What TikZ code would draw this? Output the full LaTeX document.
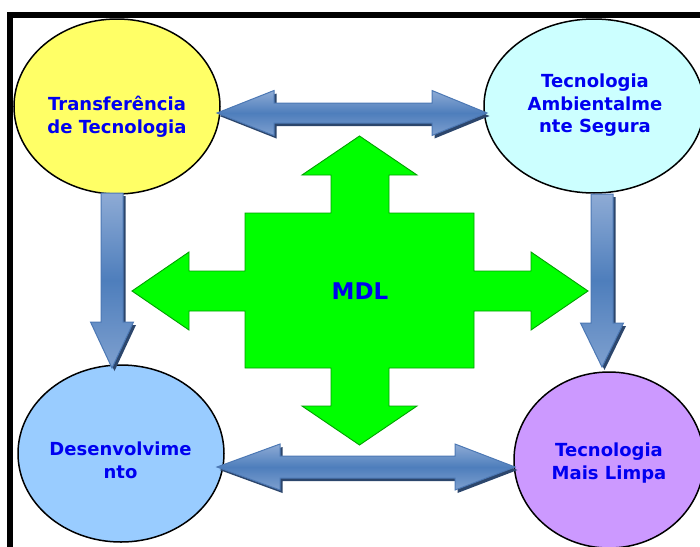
\documentclass[tikz,border=0pt]{standalone}
\usepackage{fontspec}
\setmainfont{DejaVu Sans}
\usetikzlibrary{shapes.geometric,shadows}
\definecolor{ylw}{HTML}{FFFF66}
\definecolor{cyn}{HTML}{CCFFFF}
\definecolor{lblue}{HTML}{99CCFF}
\definecolor{lpurple}{HTML}{CC99FF}
\definecolor{txtblue}{HTML}{0000F0}
\definecolor{arrowmid}{HTML}{4E7EBC}
\definecolor{arrowlight}{HTML}{8EABD5}
\definecolor{arrowedge}{HTML}{4C78B4}
\definecolor{arrowshadow}{HTML}{2C466C}
\definecolor{grn}{HTML}{00FF00}
\definecolor{grnedge}{HTML}{00A000}
\tikzset{
  ell/.style={ellipse, draw=black, line width=1.5pt, inner sep=0pt},
  lbl/.style={font=\bfseries\fontsize{18}{22.8}\selectfont, text=txtblue, align=center, inner sep=0pt},
  blockarrow/.style={draw=arrowedge, line width=1pt, line join=miter,
    top color=arrowlight, bottom color=arrowlight!75!arrowmid, middle color=arrowmid,
    drop shadow={shadow xshift=2.5pt, shadow yshift=-3pt, fill=arrowshadow, opacity=1}},
  cross/.style={fill=grn, draw=grnedge, line width=0.9pt, line join=miter}
}
\begin{document}
\begin{tikzpicture}[x=1pt,y=-1pt]
\useasboundingbox (0,0) rectangle (700,546);
\clip (0,0) rectangle (700,546);
% frame
\draw[line width=6pt, line join=miter] (10,560) -- (10,15) -- (720,15);
% ellipses
\node[ell, fill=ylw, minimum width=206pt, minimum height=175pt] (tt) at (117,106.5) {};
\node[ell, fill=cyn, minimum width=220pt, minimum height=174pt] (tas) at (594,106) {};
\node[ell, fill=lblue, minimum width=206pt, minimum height=177pt] (dev) at (121,453.5) {};
\node[ell, fill=lpurple, minimum width=190pt, minimum height=176pt] (tml) at (609,460) {};
% horizontal double arrows
\path[blockarrow] (217,113) -- (274,90.5) -- (274,103) -- (432,103) -- (432,90.5) -- (487,113)
  -- (432,135.5) -- (432,123) -- (274,123) -- (274,135.5) -- cycle;
\path[blockarrow] (217,467) -- (280,444) -- (280,456) -- (455,456) -- (455,444) -- (515,467)
  -- (455,490) -- (455,478) -- (280,478) -- (280,490) -- cycle;
% vertical arrows
\path[blockarrow] (101,193) -- (123,193) -- (123,322) -- (133.5,322) -- (112,368)
  -- (90.5,322) -- (101,322) -- cycle;
\path[blockarrow] (591,194) -- (613,194) -- (613,323) -- (623.5,323) -- (602,367)
  -- (580.5,323) -- (591,323) -- cycle;
% green cross
\path[cross] (359.5,136) -- (417,175) -- (389,175) -- (389,213) -- (474,213) -- (474,271)
  -- (531,271) -- (531,252) -- (588,291) -- (531,330) -- (531,311) -- (474,311)
  -- (474,368) -- (389,368) -- (389,406) -- (417,406) -- (359.5,445) -- (302,406)
  -- (331,406) -- (331,368) -- (245,368) -- (245,311) -- (189,311) -- (189,330)
  -- (132,291) -- (189,252) -- (189,271) -- (245,271) -- (245,213) -- (331,213)
  -- (331,175) -- (302,175) -- cycle;
% texts
\node[font=\bfseries\fontsize{23}{23}\selectfont, text=txtblue, inner sep=0pt] (mdl) at (360,291.5) {MDL};
\node[lbl] (ttl) at (117,117) {Transferência\\de Tecnologia};
\node[lbl] (tasl) at (595,105.3) {Tecnologia\\Ambientalme\\nte Segura};
\node[lbl] (devl) at (120.5,460.6) {Desenvolvime\\nto};
\node[lbl] (tmll) at (609,462.7) {Tecnologia\\Mais Limpa};
\end{tikzpicture}
\end{document}
